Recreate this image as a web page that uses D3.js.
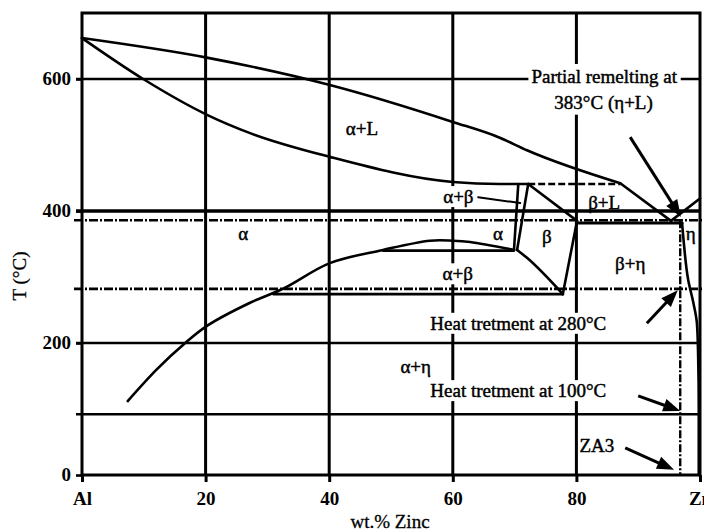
<!DOCTYPE html>
<html><head><meta charset="utf-8">
<script src="https://cdn.jsdelivr.net/npm/d3@7"></script>
<style>
body{margin:0;background:#fff;}
svg{display:block;}
text{font-family:"Liberation Serif","Times New Roman",serif;fill:#000;}
</style></head><body>
<svg id="c" width="704" height="529"></svg>
<script>
// ---------- data ----------
const xTicks=[0,20,40,60,80,100];
const xTickLabels=["Al","20","40","60","80","Zn"];
const yTicks=[0,200,400,600];
const yTickLabels=["0","200","400","600"];
const gridX=[20,40,60,80];
const gridY=[200,400,600];
const heatSolidT=[92];            // heat treatment at 100°C (solid line)
const dashDotT=[386,282];         // 383°C and 280°C lines
const za3X=96.8;                  // ZA3 composition line

// phase boundaries [wt.% Zn, T °C]
const liquidusAl=[[0,662],[20.4,632],[40.1,591],[60,535],[67.6,511],[72,492],[87.1,442]];
const liquidusLow=[[87.1,442],[95.3,385]];
const liquidusZn=[[95.3,385],[100,419]];
const solidusAl=[[0,662],[9.9,600],[20.4,545],[27.2,518],[40.1,482],[60,444],[67.6,441],[72.2,441]];
const peritectic=[[72.2,441],[87.1,441]];
const alphaRight=[[70.6,441],[69.9,341]];
const betaLeft=[[72.2,441],[70.4,341]];
const betaTop=[[72.2,441],[80.1,385]];
const betaRight=[[80.1,385],[77.8,274]];
const betaLow=[[70.4,341],[72.0,329],[77.8,274]];
const solvusAl=[[7.4,112],[12.1,160],[16.7,200],[20.4,227],[27.2,261],[32.7,283],[40.1,321],[48.7,341],[56.3,355],[60,355],[62.8,353],[69.9,341]];
const monotectoid=[[48.7,340],[69.9,340]];
const eutectoid=[[31,274],[77.8,274]];
const eutectic=[[80.1,382],[97.1,382]];
const solvusZn=[[97.1,382],[97.4,350],[98.1,295],[98.9,262],[99.5,230],[99.7,180],[99.8,100],[99.8,0]];
const leader=[[64.1,421],[70.9,412]];

// labels: text, wt.%, T (baseline), white background
const phaseLabels=[
 ["α+L",45.3,515,false],["α+β",60.9,412,true],["α",26.1,356,false],["α",67.3,356,false],
 ["β",75.2,352,false],["β+L",84.5,403,false],["β+η",88.7,311,false],["η",98.5,356,false],
 ["α+β",60.8,295,true],["α+η",54,155,false],
 ["Heat tretment at 280°C",70.6,220,true],["Heat tretment at 100°C",70.6,118,true],
 ["ZA3",83.3,35,false]
];
const remeltLines=["Partial remelting at","383°C (η+L)"];
const remeltPos=[[84.5,594],[84.4,555]];
const arrowFrom=[[88.7,512],[91.4,230],[90,120],[87.9,41]];
const arrowTo=[[96.9,391],[96.4,280],[96.8,97],[95.8,8]];

// ---------- drawing ----------
const svg=d3.select("#c");
const x=d3.scaleLinear().domain([0,100]).range([82,700]);
const y=d3.scaleLinear().domain([0,700]).range([475,13]);
const lin=d3.line().x(d=>x(d[0])).y(d=>y(d[1]));
const smooth=d3.line().x(d=>x(d[0])).y(d=>y(d[1])).curve(d3.curveMonotoneX);

// gridlines
svg.append("g").selectAll("line").data(gridX).join("line")
 .attr("x1",d=>x(d)).attr("x2",d=>x(d)).attr("y1",y(700)).attr("y2",y(0))
 .attr("stroke","#000").attr("stroke-width",3);
svg.append("g").selectAll("line").data(gridY.concat(heatSolidT)).join("line")
 .attr("x1",x(0)-6).attr("x2",x(100)).attr("y1",d=>y(d)).attr("y2",d=>y(d))
 .attr("stroke","#000").attr("stroke-width",d=>d===400?3.6:2.6);

// dash-dot lines
svg.append("g").selectAll("line").data(dashDotT).join("line")
 .attr("x1",x(0)-8).attr("x2",704).attr("y1",d=>y(d)).attr("y2",d=>y(d))
 .attr("stroke","#000").attr("stroke-width",2.6).attr("stroke-dasharray","9,2,2,2");
svg.append("line").attr("x1",x(za3X)).attr("x2",x(za3X)).attr("y1",y(dashDotT[0])).attr("y2",y(0))
 .attr("stroke","#000").attr("stroke-width",2.4).attr("stroke-dasharray","8,2,2,2");

// phase lines
const pl=svg.append("g").attr("fill","none").attr("stroke","#000").attr("stroke-width",2.6).attr("stroke-linejoin","round").attr("stroke-linecap","round");
pl.append("path").attr("d",smooth(liquidusAl));
pl.append("path").attr("d",lin(liquidusLow));
pl.append("path").attr("d",lin(liquidusZn));
pl.append("path").attr("d",smooth(solidusAl));
pl.append("path").attr("d",lin(peritectic)).attr("stroke-dasharray","7,3").attr("stroke-linecap","butt");
pl.append("path").attr("d",lin(alphaRight));
pl.append("path").attr("d",lin(betaLeft));
pl.append("path").attr("d",lin(betaTop));
pl.append("path").attr("d",lin(betaRight));
pl.append("path").attr("d",smooth(betaLow));
pl.append("path").attr("d",d3.line().x(d=>x(d[0])).y(d=>y(d[1])).curve(d3.curveCatmullRom.alpha(0.5))(solvusAl));
pl.append("path").attr("d",lin(monotectoid));
pl.append("path").attr("d",lin(eutectoid));
pl.append("path").attr("d",lin(eutectic)).attr("stroke-width",3);
pl.append("path").attr("d",d3.line().x(d=>x(d[0])).y(d=>y(d[1])).curve(d3.curveMonotoneY)(solvusZn));
pl.append("path").attr("d",lin(leader)).attr("stroke-width",2);

// frame
svg.append("rect").attr("x",x(0)).attr("y",y(700)).attr("width",x(100)-x(0)).attr("height",y(0)-y(700))
 .attr("fill","none").attr("stroke","#000").attr("stroke-width",3);

// axes
const ax=svg.append("g").attr("transform",`translate(0,${y(0)})`)
 .call(d3.axisBottom(x).tickValues(xTicks).tickFormat((d,i)=>xTickLabels[i]).tickSize(7).tickPadding(10));
ax.select(".domain").remove();
ax.selectAll("line").attr("stroke-width",3);
ax.selectAll("text").attr("font-family","Liberation Serif").attr("font-size",19).attr("font-weight","bold");
const ay=svg.append("g").attr("transform",`translate(${x(0)},0)`)
 .call(d3.axisLeft(y).tickValues(yTicks).tickFormat((d,i)=>yTickLabels[i]).tickSize(6).tickPadding(5));
ay.select(".domain").remove();
ay.selectAll("line").attr("stroke-width",2.6);
ay.selectAll("text").attr("font-family","Liberation Serif").attr("font-size",19).attr("font-weight","bold").attr("dy","0.3em");

// labels
function addLabel(t,px,py,bg){
  const g=svg.append("g");
  const tx=g.append("text").attr("x",px).attr("y",py).attr("text-anchor","middle").attr("font-size",19)
    .attr("stroke","#000").attr("stroke-width",0.45).text(t);
  if(bg){const b=tx.node().getBBox();
    g.insert("rect","text").attr("x",b.x-1).attr("y",b.y).attr("width",b.width+2).attr("height",b.height).attr("fill","#fff");}
  return tx;
}
phaseLabels.forEach(d=>addLabel(d[0],x(d[1]),y(d[2]),d[3]));

// remelting block
const rg=svg.append("g");
const rt=remeltLines.map((t,i)=>rg.append("text").attr("x",x(remeltPos[i][0])).attr("y",y(remeltPos[i][1])).attr("text-anchor","middle").attr("font-size",19).attr("stroke","#000").attr("stroke-width",0.45).text(t));
{const b1=rt[0].node().getBBox(), b2=rt[1].node().getBBox();
 const x0=Math.min(b1.x,b2.x)-3, x1=Math.max(b1.x+b1.width,b2.x+b2.width)+3;
 rg.insert("rect","text").attr("x",x0).attr("y",b1.y-2).attr("width",x1-x0).attr("height",b2.y+b2.height-b1.y+3).attr("fill","#fff");}

// arrows
const ag=svg.append("g");
arrowFrom.forEach((f,i)=>{
  const t=arrowTo[i];
  const x1=x(f[0]),y1=y(f[1]),x2=x(t[0]),y2=y(t[1]);
  const a=Math.atan2(y2-y1,x2-x1), L=17, W=6.5;
  const bx=x2-L*Math.cos(a), by=y2-L*Math.sin(a);
  ag.append("line").attr("x1",x1).attr("y1",y1).attr("x2",bx+3*Math.cos(a)).attr("y2",by+3*Math.sin(a))
    .attr("stroke","#000").attr("stroke-width",3);
  ag.append("polygon").attr("points",[[x2,y2],[bx-W*Math.sin(a),by+W*Math.cos(a)],[bx+W*Math.sin(a),by-W*Math.cos(a)]].map(p=>p.join(",")).join(" "))
    .attr("fill","#000");
});

// axis titles
svg.append("text").attr("transform",`translate(26,276) rotate(-90)`).attr("text-anchor","middle").attr("font-size",19).attr("stroke","#000").attr("stroke-width",0.3).text("T (°C)");
svg.append("text").attr("x",390).attr("y",528).attr("text-anchor","middle").attr("font-size",19).attr("stroke","#000").attr("stroke-width",0.3).text("wt.% Zinc");
</script>
</body></html>
